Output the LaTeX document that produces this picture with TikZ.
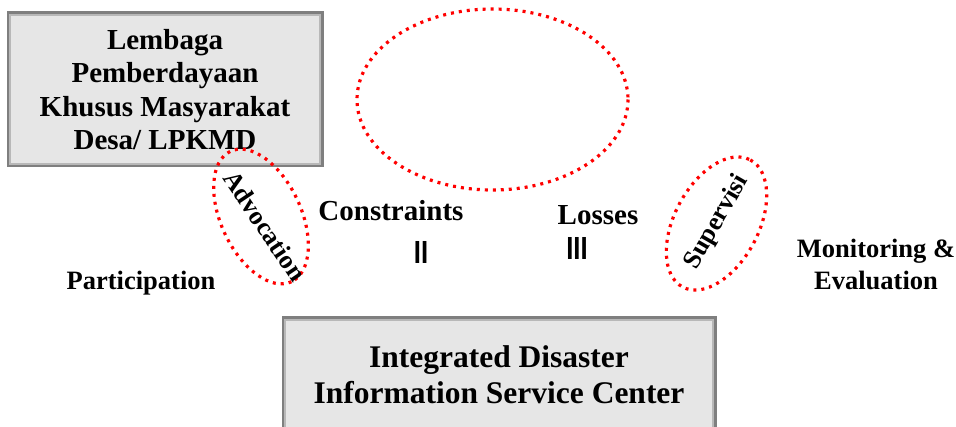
\documentclass[tikz,border=0pt]{standalone}
\usepackage{fontspec}
\setmainfont{Liberation Serif}
\newfontfamily\barfont{Liberation Sans}
\definecolor{boxfill}{HTML}{E6E6E6}
\definecolor{boxedge}{HTML}{7F7F7F}
\definecolor{boxglow}{HTML}{B8B8B8}
\definecolor{dotred}{HTML}{FF0000}
\tikzset{
  panel/.style={rectangle, fill=boxfill, draw=boxedge, line width=3pt,
    align=center, inner sep=0pt},
  bigtext/.style={font=\fontsize{29}{33.5}\selectfont\bfseries, align=center},
  label/.style={font=\fontsize{26.5}{32}\selectfont\bfseries, align=center, inner sep=0pt},
  biglabel/.style={label, font=\fontsize{29}{32}\selectfont\bfseries},
  tilted/.style={font=\fontsize{26}{30}\selectfont\bfseries, inner sep=0pt},
  bars/.style={font=\fontsize{32}{36}\barfont\bfseries, inner sep=0pt, xscale=0.8},
  redring/.style={draw=dotred, line width=3.2pt, dash pattern=on 3pt off 5pt}
}
\begin{document}
\begin{tikzpicture}[x=1pt,y=-1pt]
\useasboundingbox (0,0) rectangle (956,427);
\clip (0,0) rectangle (956,427);

% institution box, top left
\node[panel, minimum width=314pt, minimum height=153pt] (lpkmd) at (165,89.5) {};
\draw[boxglow, line width=2.5pt] ([shift={(3.5,3.5)}]lpkmd.north west) rectangle ([shift={(-3.5,-3.5)}]lpkmd.south east);
\node[bigtext] at (lpkmd.center) {Lembaga\\Pemberdayaan\\Khusus Masyarakat\\Desa/ LPKMD};

% service centre box, bottom
\node[panel, minimum width=432pt, minimum height=124pt] (center) at (499,380) {};
\draw[boxglow, line width=2.5pt] ([shift={(3.5,3.5)}]center.north west) rectangle ([shift={(-3.5,-3.5)}]center.south east);
\node[bigtext, font=\fontsize{31.5}{36}\selectfont\bfseries] (centertext) at (499,375) {Integrated Disaster\\Information Service Center};

% empty dotted ring at the top
\draw[redring] (492.5,99.5) ellipse [x radius=135.5, y radius=90.5];

% advocation ring
\draw[redring, rotate around={-65:(261,216.5)}] (261,216.5) ellipse [x radius=72, y radius=40];
\node[tilted, rotate=-56] (advocation) at (265,226) {Advocation};

% supervision ring
\draw[redring, rotate around={62:(716.5,223.5)}] (716.5,223.5) ellipse [x radius=72, y radius=42];
\node[tilted, rotate=60] (supervisi) at (717,222) {Supervisi};

% free labels
\node[biglabel] (constraints) at (391,211) {Constraints};
\node[biglabel] (losses) at (598,215) {Losses};
\node[bars] (two) at (421,252) {II};
\node[bars] (three) at (577,248) {III};
\node[label] (participation) at (141,283) {Participation};
\node[label] (monitoring) at (876,264) {Monitoring \&\\Evaluation};
\end{tikzpicture}
\end{document}
